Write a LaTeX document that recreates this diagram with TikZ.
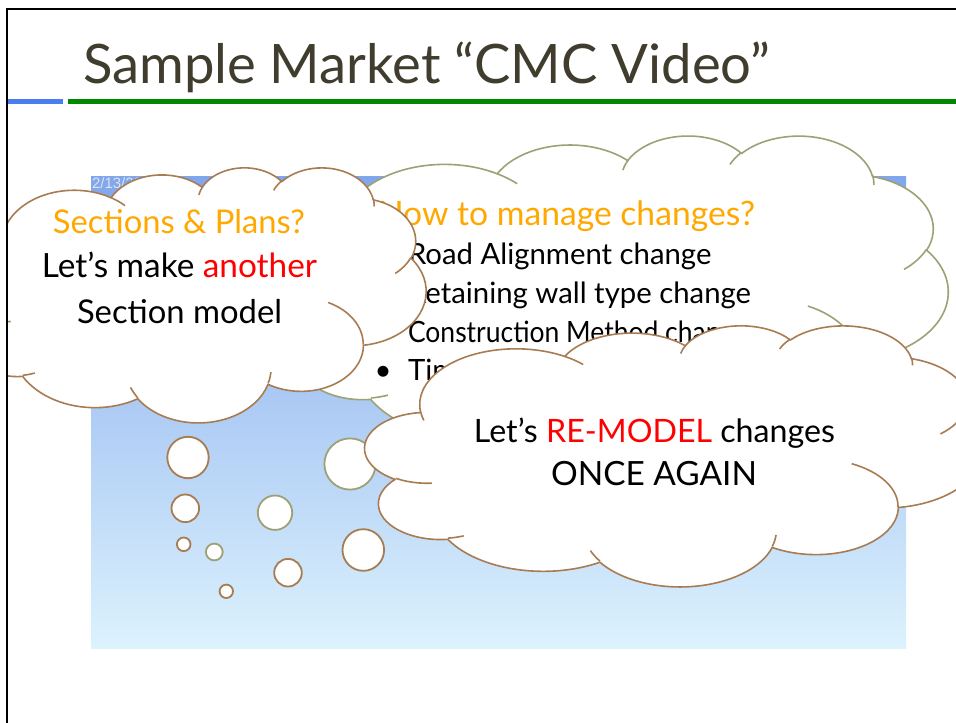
\documentclass[tikz,border=0pt]{standalone}
\usepackage{fontspec}
\setmainfont{Lato}
\newfontfamily\datefont{Liberation Sans}
\definecolor{titlec}{RGB}{64,60,46}
\definecolor{brownc}{RGB}{168,124,82}
\definecolor{olivec}{RGB}{158,160,118}
\definecolor{orangec}{RGB}{255,168,0}
\definecolor{bluel}{RGB}{74,126,240}
\definecolor{greenl}{RGB}{0,136,0}
\definecolor{gradtop}{RGB}{128,166,236}
\definecolor{gradbot}{RGB}{220,242,253}
\definecolor{datec}{RGB}{222,226,234}
\newlength\tmplen
% convert a DrawingML arcTo (visual angles, y down) to TikZ parametric angles (y up)
\newcommand\cvt[5]{%
  \pgfmathsetmacro\cvphi{-(#4)}%
  \pgfmathsetmacro\cvdel{-(#5)}%
  \pgfmathsetmacro\cvts{atan2((#2)*sin(\cvphi),(#3)*cos(\cvphi))}%
  \pgfmathsetmacro\cvte{atan2((#2)*sin(\cvphi+\cvdel),(#3)*cos(\cvphi+\cvdel))}%
  \pgfmathsetmacro\cvtd{\cvte-\cvts}%
  \pgfmathsetmacro\cvtd{\cvtd-360*round((\cvtd-\cvdel)/360)}%
  \expandafter\xdef\csname cs#1\endcsname{\cvts}%
  \expandafter\xdef\csname cd#1\endcsname{\cvtd}%
  \expandafter\xdef\csname cw#1\endcsname{#2}%
  \expandafter\xdef\csname ch#1\endcsname{#3}%
}
\newcommand\carc[1]{arc[x radius={\csname cw#1\endcsname*\sx*1pt}, y radius={\csname ch#1\endcsname*\sy*1pt}, start angle={\csname cs#1\endcsname}, delta angle={\csname cd#1\endcsname}]}
\newcommand\drawcloud[5]{%
  \pgfmathsetmacro\sx{#3/432}%
  \pgfmathsetmacro\sy{#4/432}%
  \def\cL{#1}\def\cT{#2}%
  \path[cloudline=#5, fill=white] ({\cL+39.00*\sx},{-(\cT+143.70*\sy)})
    \carc{1} \carc{2} \carc{3} \carc{4} \carc{5} \carc{6} \carc{7} \carc{8} \carc{9} \carc{10} \carc{11} -- cycle;
  \path[cloudline=#5]
    ({\cL+46.93*\sx},{-(\cT+261.77*\sy)}) \carc{a}
    ({\cL+69.28*\sx},{-(\cT+348.99*\sy)}) \carc{b}
    ({\cL+164.78*\sx},{-(\cT+390.90*\sy)}) \carc{c}
    ({\cL+288.27*\sx},{-(\cT+347.51*\sy)}) \carc{d}
    ({\cL+341.29*\sx},{-(\cT+229.54*\sy)}) \carc{e}
    ({\cL+417.98*\sx},{-(\cT+153.54*\sy)}) \carc{f}
    ({\cL+383.24*\sx},{-(\cT+54.26*\sy)}) \carc{g}
    ({\cL+290.78*\sx},{-(\cT+39.52*\sy)}) \carc{h}
    ({\cL+221.41*\sx},{-(\cT+47.20*\sy)}) \carc{i}
    ({\cL+140.00*\sx},{-(\cT+51.92*\sy)}) \carc{j}
    ({\cL+41.27*\sx},{-(\cT+157.89*\sy)}) \carc{k};
}
\begin{document}
\settowidth\tmplen{\fontsize{20}{24}\selectfont Retaining wall type change}%
\pgfmathsetmacro\bfs{20*343/\tmplen}%
\settowidth\tmplen{\fontsize{20}{24}\selectfont How to manage changes?}%
\pgfmathsetmacro\hfs{20*377/\tmplen}%
\begin{tikzpicture}[x=1pt,y=1pt,
  cloudline/.style={draw=#1, line width=1.6pt, line join=round},
  bubble/.style={draw=#1, fill=white, line width=1.8pt},
  txt/.style={inner sep=0pt, outer sep=0pt}]
\useasboundingbox (0,0) rectangle (956,-723);
\fill[white] (0,0) rectangle (956,-723);
\cvt{1}{67.53}{91.90}{-190.4875}{123.7805}
\cvt{2}{53.33}{72.67}{-144.1024}{89.9452}
\cvt{3}{43.65}{59.45}{-145.8079}{99.7230}
\cvt{4}{48.57}{65.95}{-130.9861}{117.2417}
\cvt{5}{53.33}{72.73}{-78.7089}{109.0269}
\cvt{6}{67.75}{92.20}{-46.2673}{130.2690}
\cvt{7}{57.85}{78.67}{0.6250}{114.0333}
\cvt{8}{67.52}{92.15}{22.4516}{115.1726}
\cvt{9}{77.20}{105.43}{66.2426}{75.7110}
\cvt{10}{43.60}{59.18}{-274.9421}{146.7356}
\cvt{11}{43.45}{59.45}{-246.8285}{152.5189}
\cvt{a}{43.45}{59.45}{86.7420}{26.4295}
\cvt{b}{43.60}{59.18}{73.6105}{11.4475}
\cvt{c}{67.52}{92.15}{137.6242}{14.0811}
\cvt{d}{67.52}{92.15}{6.4533}{15.9984}
\cvt{e}{57.85}{78.67}{-70.2924}{70.9174}
\cvt{f}{53.33}{72.73}{30.3180}{27.7515}
\cvt{g}{48.57}{65.95}{-13.7443}{14.8589}
\cvt{h}{48.57}{65.95}{-149.1815}{18.1954}
\cvt{i}{43.65}{59.45}{-163.4943}{17.6864}
\cvt{j}{67.53}{91.90}{-66.7070}{12.3194}
\cvt{k}{67.53}{91.90}{157.6544}{11.8582}
\begin{scope}
\clip (7,-8) rectangle (960,-730);
% title and rules
\node[txt, anchor=base west, text=titlec] (title) at (83,-83)
  {\resizebox{687pt}{!}{\fontsize{20}{24}\selectfont Sample Market “CMC Video”}};
\fill[bluel] (7,-99) rectangle (63,-103.7);
\fill[greenl] (68,-99) rectangle (960,-103.7);
% picture background
\shade[top color=gradtop, bottom color=gradbot] (91,-176) rectangle (906,-648);
\node[txt, anchor=base west, text=datec, font=\datefont\fontsize{15}{15}\selectfont] (date) at (92,-188) {2/13/2012};
% cloud B (olive) with its text
\drawcloud{281}{135}{667}{322}{olivec}
\node[txt, anchor=base west, text=orangec, font=\fontsize{\hfs}{\hfs}\selectfont] (headB) at (378,-225) {How to manage changes?};
\foreach \yy/\tt [count=\i] in {264/Road Alignment change, 303/Retaining wall type change, 380/Time schedule change}{
  \node[txt, anchor=base west, font=\fontsize{\bfs}{\bfs}\selectfont] (item\i) at (408,-\yy) {\tt};
}
\node[txt, anchor=base west] (item4) at (408,-342) {\resizebox{340pt}{\height}{\fontsize{\bfs}{\bfs}\selectfont Construction Method change}};
\foreach \yy [count=\i] in {264,303,342,380}{
  \node[txt, anchor=base, font=\fontsize{\bfs}{\bfs}\selectfont] (bul\i) at (383,-\yy) {•};
}
% bubbles
\draw[bubble=brownc] (188,-457.5) circle[radius=20.7];
\draw[bubble=brownc] (185.3,-508.3) circle[radius=13.8];
\draw[bubble=brownc] (183.7,-544.3) circle[radius=6.8];
\draw[bubble=brownc] (226.3,-591.3) circle[radius=6.7];
\draw[bubble=brownc] (288,-572.7) circle[radius=13.8];
\draw[bubble=brownc] (363.3,-550) circle[radius=20.8];
\draw[bubble=olivec] (214.3,-552) circle[radius=8.4];
\draw[bubble=olivec] (275,-512.7) circle[radius=17.2];
\draw[bubble=olivec] (350,-464) circle[radius=25.6];
% cloud A (left, brown)
\drawcloud{-40}{167}{466}{255}{brownc}
\node[txt, anchor=base, text=orangec] (headA) at (179,-233) {\resizebox{252pt}{!}{\fontsize{20}{24}\selectfont Sections \& Plans?}};
\node[txt, anchor=base] (lineA1) at (179.5,-277) {\resizebox{275pt}{!}{\fontsize{20}{24}\selectfont Let’s make \textcolor{red}{another}}};
\node[txt, anchor=base] (lineA2) at (179.5,-323) {\resizebox{205pt}{!}{\fontsize{20}{24}\selectfont Section model}};
% cloud C (bottom right, brown)
\drawcloud{365}{325}{616}{261}{brownc}
\node[txt, anchor=base] (lineC1) at (654.5,-442) {\resizebox{361pt}{!}{\fontsize{20}{24}\selectfont Let’s \textcolor{red}{RE-MODEL} changes}};
\node[txt, anchor=base] (lineC2) at (654,-485) {\resizebox{206pt}{!}{\fontsize{20}{24}\selectfont ONCE AGAIN}};
\end{scope}
% slide frame
\draw[line width=1.8pt] (7,-730) -- (7,-8.6) -- (960,-8.6);
\end{tikzpicture}
\end{document}
